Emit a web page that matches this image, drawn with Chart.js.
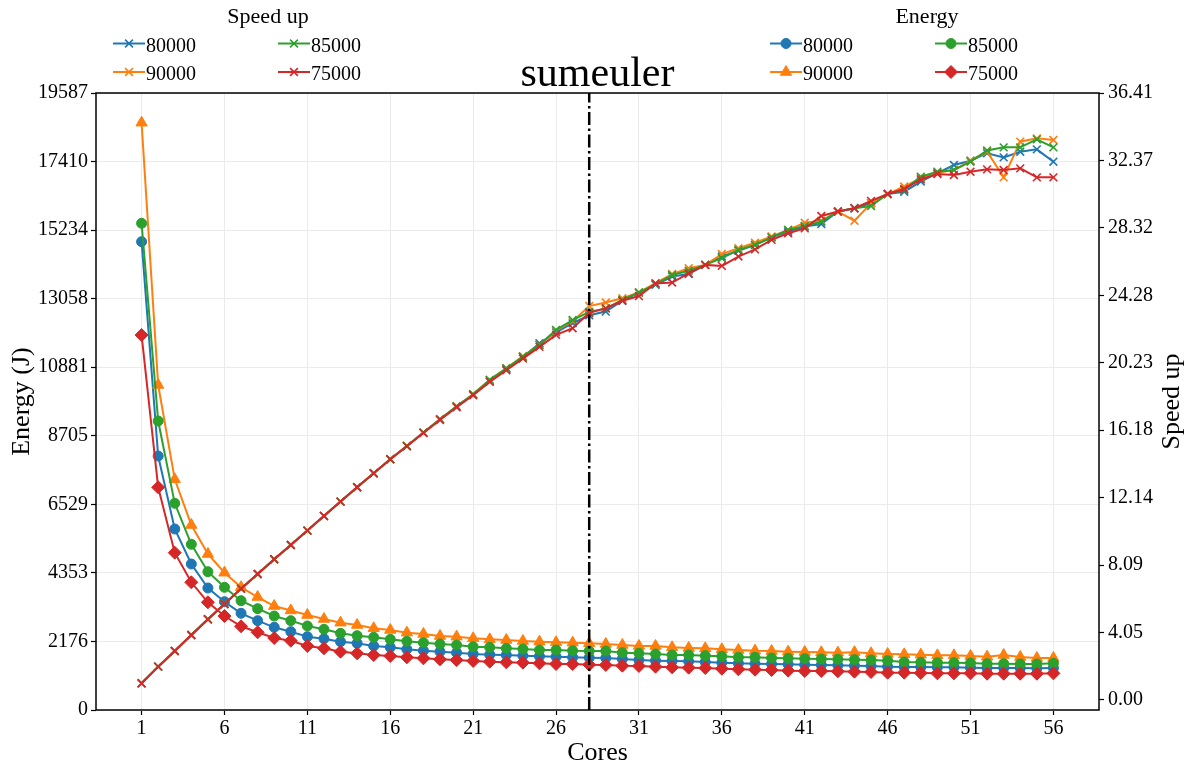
<!DOCTYPE html>
<html>
<head>
<meta charset="utf-8">
<title>sumeuler</title>
<script src="https://cdn.jsdelivr.net/npm/chart.js@4.4.1/dist/chart.umd.min.js"></script>
<style>
  html, body { margin: 0; padding: 0; background: #ffffff; }
  canvas { display: block; }
</style>
</head>
<body>
<canvas id="chart" width="1189" height="767"></canvas>
<script>
// ---- data -------------------------------------------------------------
const cores = [1, 2, 3, 4, 5, 6, 7, 8, 9, 10, 11, 12, 13, 14, 15, 16, 17, 18, 19, 20,
  21, 22, 23, 24, 25, 26, 27, 28, 29, 30, 31, 32, 33, 34, 35, 36, 37, 38, 39, 40,
  41, 42, 43, 44, 45, 46, 47, 48, 49, 50, 51, 52, 53, 54, 55, 56];
const coreTicks = [1, 6, 11, 16, 21, 26, 31, 36, 41, 46, 51, 56];
const splitCores = 28;

const seriesLabels = ['80000', '85000', '90000', '75000'];

// speed up (right axis)
const speedup80000 = [1.00, 2.00, 2.94, 3.90, 4.84, 5.76, 6.68, 7.56, 8.44, 9.30,
  10.16, 11.04, 11.90, 12.76, 13.60, 14.44, 15.24, 16.04, 16.84, 17.58,
  18.32, 19.12, 19.84, 20.58, 21.40, 22.05, 22.60, 23.08, 23.30, 23.95,
  24.43, 24.90, 25.40, 25.55, 26.10, 26.60, 26.95, 27.30, 27.75, 28.10,
  28.40, 28.55, 29.30, 29.50, 29.80, 30.35, 30.49, 31.10, 31.60, 32.09,
  32.35, 32.80, 32.55, 32.89, 33.03, 32.29];
const speedup85000 = [1.00, 2.00, 2.94, 3.90, 4.84, 5.76, 6.68, 7.56, 8.44, 9.30,
  10.16, 11.04, 11.90, 12.76, 13.60, 14.44, 15.24, 16.04, 16.84, 17.62,
  18.34, 19.20, 19.90, 20.60, 21.30, 22.20, 22.79, 23.28, 23.49, 24.00,
  24.45, 24.93, 25.49, 25.75, 26.10, 26.50, 27.00, 27.29, 27.75, 28.20,
  28.43, 28.69, 29.30, 29.50, 29.63, 30.35, 30.60, 31.39, 31.69, 31.79,
  32.29, 32.96, 33.15, 33.15, 33.63, 33.15];
const speedup90000 = [1.00, 2.00, 2.94, 3.90, 4.84, 5.76, 6.68, 7.56, 8.44, 9.30,
  10.16, 11.04, 11.90, 12.76, 13.60, 14.44, 15.24, 16.04, 16.84, 17.62,
  18.34, 19.20, 19.90, 20.62, 21.30, 22.15, 22.72, 23.63, 23.84, 24.10,
  24.45, 25.00, 25.55, 25.90, 26.10, 26.75, 27.10, 27.43, 27.80, 28.20,
  28.63, 28.75, 29.30, 28.75, 29.80, 30.35, 30.80, 31.30, 31.62, 31.79,
  32.35, 32.90, 31.35, 33.49, 33.69, 33.59];
const speedup75000 = [1.00, 2.00, 2.94, 3.90, 4.84, 5.76, 6.68, 7.56, 8.44, 9.30,
  10.16, 11.04, 11.90, 12.76, 13.60, 14.44, 15.22, 16.02, 16.80, 17.56,
  18.28, 19.08, 19.78, 20.48, 21.18, 21.90, 22.30, 23.22, 23.49, 23.95,
  24.23, 24.99, 25.04, 25.59, 26.10, 26.04, 26.60, 27.03, 27.60, 28.00,
  28.29, 29.03, 29.30, 29.50, 29.94, 30.35, 30.65, 31.23, 31.55, 31.49,
  31.69, 31.83, 31.79, 31.89, 31.35, 31.35];

// energy in joules (left axis)
const energy80000 = [14866, 8063, 5746, 4635, 3873, 3438, 3070, 2835, 2625, 2487,
  2328, 2264, 2169, 2116, 2032, 1989, 1926, 1883, 1852, 1820,
  1778, 1757, 1746, 1725, 1704, 1693, 1672, 1661, 1651, 1619,
  1587, 1566, 1556, 1545, 1524, 1503, 1481, 1471, 1460, 1450,
  1439, 1429, 1418, 1407, 1397, 1376, 1365, 1365, 1354, 1354,
  1344, 1333, 1333, 1333, 1323, 1333];
const energy85000 = [15450, 9174, 6561, 5260, 4390, 3895, 3470, 3216, 2984, 2836,
  2667, 2561, 2434, 2360, 2307, 2243, 2180, 2137, 2095, 2063,
  2010, 1989, 1958, 1936, 1905, 1905, 1883, 1873, 1873, 1820,
  1799, 1778, 1746, 1746, 1725, 1704, 1672, 1672, 1651, 1640,
  1630, 1619, 1608, 1598, 1587, 1566, 1524, 1513, 1503, 1503,
  1492, 1471, 1471, 1460, 1460, 1481];
const energy90000 = [18644, 10317, 7323, 5873, 4952, 4359, 3895, 3587, 3301, 3160,
  3016, 2889, 2772, 2698, 2593, 2540, 2455, 2413, 2349, 2328,
  2275, 2243, 2222, 2190, 2169, 2148, 2137, 2116, 2095, 2063,
  2032, 2032, 1989, 1968, 1958, 1926, 1905, 1883, 1873, 1852,
  1841, 1831, 1820, 1836, 1799, 1778, 1767, 1757, 1735, 1735,
  1714, 1693, 1746, 1682, 1651, 1651];
const energy75000 = [11904, 7069, 4994, 4054, 3419, 2984, 2657, 2467, 2286, 2200,
  2032, 1958, 1852, 1799, 1746, 1714, 1672, 1640, 1608, 1587,
  1556, 1534, 1513, 1503, 1481, 1460, 1460, 1439, 1429, 1407,
  1397, 1376, 1354, 1344, 1333, 1312, 1291, 1280, 1270, 1249,
  1238, 1238, 1228, 1217, 1206, 1185, 1185, 1175, 1164, 1164,
  1164, 1153, 1153, 1153, 1153, 1164];

const energyTickLabels = ['0', '2176', '4353', '6529', '8705', '10881', '13058', '15234', '17410', '19587'];
const speedupTickLabels = ['0.00', '4.05', '8.09', '12.14', '16.18', '20.23', '24.28', '28.32', '32.37', '36.41'];
const energyMax = 19587;
const speedupMax = 36.41;
const speedupMin = -0.6;

// ---- styling ----------------------------------------------------------
const SERIF = "'Liberation Serif', 'Times New Roman', serif";
const seriesColors = { '80000': '#1f77b4', '85000': '#2ca02c', '90000': '#ff7f0e', '75000': '#d62728' };
const energyMarkers = { '80000': 'circle', '85000': 'circle', '90000': 'triangle', '75000': 'rectRot' };
const energyMarkerSize = { circle: 5, triangle: 6.5, rectRot: 6.5 };

const toPoints = vals => cores.map((c, i) => ({ x: c, y: vals[i] }));

const speedupSeries = { '80000': speedup80000, '85000': speedup85000, '90000': speedup90000, '75000': speedup75000 };
const energySeries = { '80000': energy80000, '85000': energy85000, '90000': energy90000, '75000': energy75000 };

// draw stacking: speed up above energy, 75000 topmost within each group
const stackRank = { '75000': 1, '85000': 2, '90000': 3, '80000': 4 };

const datasets = [];
seriesLabels.forEach(lbl => {
  datasets.push({
    label: lbl,
    group: 'speedup',
    data: toPoints(speedupSeries[lbl]),
    yAxisID: 'y2',
    borderColor: seriesColors[lbl],
    backgroundColor: seriesColors[lbl],
    borderWidth: 2,
    pointStyle: 'crossRot',
    pointRadius: 5.5,
    pointBorderWidth: 1.6,
    pointBorderColor: seriesColors[lbl],
    tension: 0,
    order: stackRank[lbl]
  });
});
seriesLabels.forEach(lbl => {
  const m = energyMarkers[lbl];
  datasets.push({
    label: lbl,
    group: 'energy',
    data: toPoints(energySeries[lbl]),
    yAxisID: 'y',
    borderColor: seriesColors[lbl],
    backgroundColor: seriesColors[lbl],
    borderWidth: 2,
    pointStyle: m,
    pointRadius: energyMarkerSize[m],
    pointBorderWidth: 1,
    pointBorderColor: seriesColors[lbl],
    pointBackgroundColor: seriesColors[lbl],
    tension: 0,
    order: 4 + stackRank[lbl]
  });
});
// vertical dash-dot marker at the split core count
datasets.push({
  label: 'split',
  group: 'none',
  data: [{ x: splitCores, y: 0 }, { x: splitCores, y: energyMax }],
  yAxisID: 'y',
  borderColor: '#000000',
  borderWidth: 2.5,
  borderDash: [13, 3.5, 2.5, 3.5],
  pointRadius: 0,
  order: 0
});

// ---- custom drawing: frame, title, right axis label, two legends -----
function drawMarker(ctx, style, x, y, r, color, bw) {
  ctx.save();
  ctx.fillStyle = color;
  ctx.strokeStyle = color;
  ctx.lineWidth = bw;
  if (Chart.helpers && Chart.helpers.drawPoint) {
    Chart.helpers.drawPoint(ctx, { pointStyle: style, radius: r, borderWidth: bw, rotation: 0 }, x, y);
  } else {
    ctx.beginPath();
    ctx.arc(x, y, r, 0, Math.PI * 2);
    ctx.fill();
  }
  ctx.restore();
}

const decorPlugin = {
  id: 'decor',
  beforeDraw(chart) {
    const ctx = chart.ctx;
    ctx.save();
    ctx.fillStyle = '#ffffff';
    ctx.fillRect(0, 0, chart.width, chart.height);
    ctx.restore();
  },
  afterDraw(chart) {
    const ctx = chart.ctx;
    const a = chart.chartArea;
    ctx.save();
    // axes frame
    ctx.strokeStyle = '#000000';
    ctx.lineWidth = 1.5;
    ctx.strokeRect(a.left, a.top, a.right - a.left, a.bottom - a.top);

    // title
    ctx.fillStyle = '#000000';
    ctx.font = '42px ' + SERIF;
    ctx.textAlign = 'center';
    ctx.textBaseline = 'alphabetic';
    ctx.fillText('sumeuler', (a.left + a.right) / 2, 86);

    // right axis title, reading bottom to top
    ctx.save();
    ctx.translate(1172, (a.top + a.bottom) / 2);
    ctx.rotate(-Math.PI / 2);
    ctx.font = '26px ' + SERIF;
    ctx.textAlign = 'center';
    ctx.textBaseline = 'middle';
    ctx.fillText('Speed up', 0, 0);
    ctx.restore();

    // legends
    const legends = [
      { group: 'speedup', title: 'Speed up', cx: 268, cols: [113, 278] },
      { group: 'energy', title: 'Energy', cx: 927, cols: [770, 935] }
    ];
    const rows = [43.5, 72];
    // column-major fill, two columns
    const legendOrder = ['80000', '90000', '85000', '75000'];
    legends.forEach(L => {
      ctx.font = '22px ' + SERIF;
      ctx.textAlign = 'center';
      ctx.textBaseline = 'alphabetic';
      ctx.fillStyle = '#000000';
      ctx.fillText(L.title, L.cx, 23);
      legendOrder.forEach((lbl, k) => {
        const ds = chart.data.datasets.find(d => d.group === L.group && d.label === lbl);
        const x0 = L.cols[Math.floor(k / 2)];
        const y = rows[k % 2];
        ctx.save();
        ctx.strokeStyle = ds.borderColor;
        ctx.lineWidth = 2;
        ctx.beginPath();
        ctx.moveTo(x0, y);
        ctx.lineTo(x0 + 32, y);
        ctx.stroke();
        ctx.restore();
        drawMarker(ctx, ds.pointStyle, x0 + 16, y, ds.pointRadius, ds.borderColor, ds.pointBorderWidth);
        ctx.font = '20px ' + SERIF;
        ctx.textAlign = 'left';
        ctx.textBaseline = 'alphabetic';
        ctx.fillStyle = '#000000';
        ctx.fillText(lbl, x0 + 33, y + 8);
      });
    });
    ctx.restore();
  }
};

const tickFont = { family: SERIF, size: 20 };

new Chart(document.getElementById('chart'), {
  type: 'line',
  data: { datasets },
  plugins: [decorPlugin],
  options: {
    responsive: false,
    animation: false,
    devicePixelRatio: 1,
    layout: { padding: { top: 93, left: 0, right: 0, bottom: 0 } },
    plugins: {
      legend: { display: false },
      title: { display: false },
      tooltip: { enabled: false }
    },
    elements: { line: { fill: false } },
    scales: {
      x: {
        type: 'linear',
        position: 'bottom',
        min: -1.75,
        max: 58.75,
        afterBuildTicks: s => { s.ticks = coreTicks.map(v => ({ value: v })); },
        afterFit: s => { s.height = 57; },
        ticks: { autoSkip: false, maxRotation: 0, color: '#000', font: tickFont, padding: 2,
          callback: v => String(v) },
        grid: { color: '#ebebeb', lineWidth: 1, tickColor: '#000', tickLength: 5, tickWidth: 1.2 },
        border: { display: false },
        title: { display: true, text: 'Cores', color: '#000', font: { family: SERIF, size: 26, lineHeight: 1.05 },
          padding: { top: 0, bottom: 0 } }
      },
      y: {
        type: 'linear',
        position: 'left',
        min: 0,
        max: energyMax,
        afterBuildTicks: s => {
          s.ticks = energyTickLabels.map((_, i) => ({ value: i * energyMax / (energyTickLabels.length - 1) }));
        },
        afterFit: s => { s.width = 96; },
        ticks: { autoSkip: false, color: '#000', font: tickFont, padding: 3,
          callback: (v, i) => energyTickLabels[i] },
        grid: { color: '#ebebeb', lineWidth: 1, tickColor: '#000', tickLength: 5, tickWidth: 1.2 },
        border: { display: false },
        title: { display: true, text: 'Energy (J)', color: '#000', font: { family: SERIF, size: 26, lineHeight: 1.2 },
          padding: { top: 7, bottom: 0 } }
      },
      y2: {
        type: 'linear',
        position: 'right',
        min: speedupMin,
        max: speedupMax,
        afterBuildTicks: s => {
          s.ticks = speedupTickLabels.map((_, i) => ({ value: i * speedupMax / (speedupTickLabels.length - 1) }));
        },
        afterFit: s => { s.width = 90; },
        ticks: { autoSkip: false, color: '#000', font: tickFont, padding: 4,
          callback: (v, i) => speedupTickLabels[i] },
        grid: { drawOnChartArea: false, tickColor: '#000', tickLength: 5, tickWidth: 1.2 },
        border: { display: false }
      }
    }
  }
});
</script>
</body>
</html>
